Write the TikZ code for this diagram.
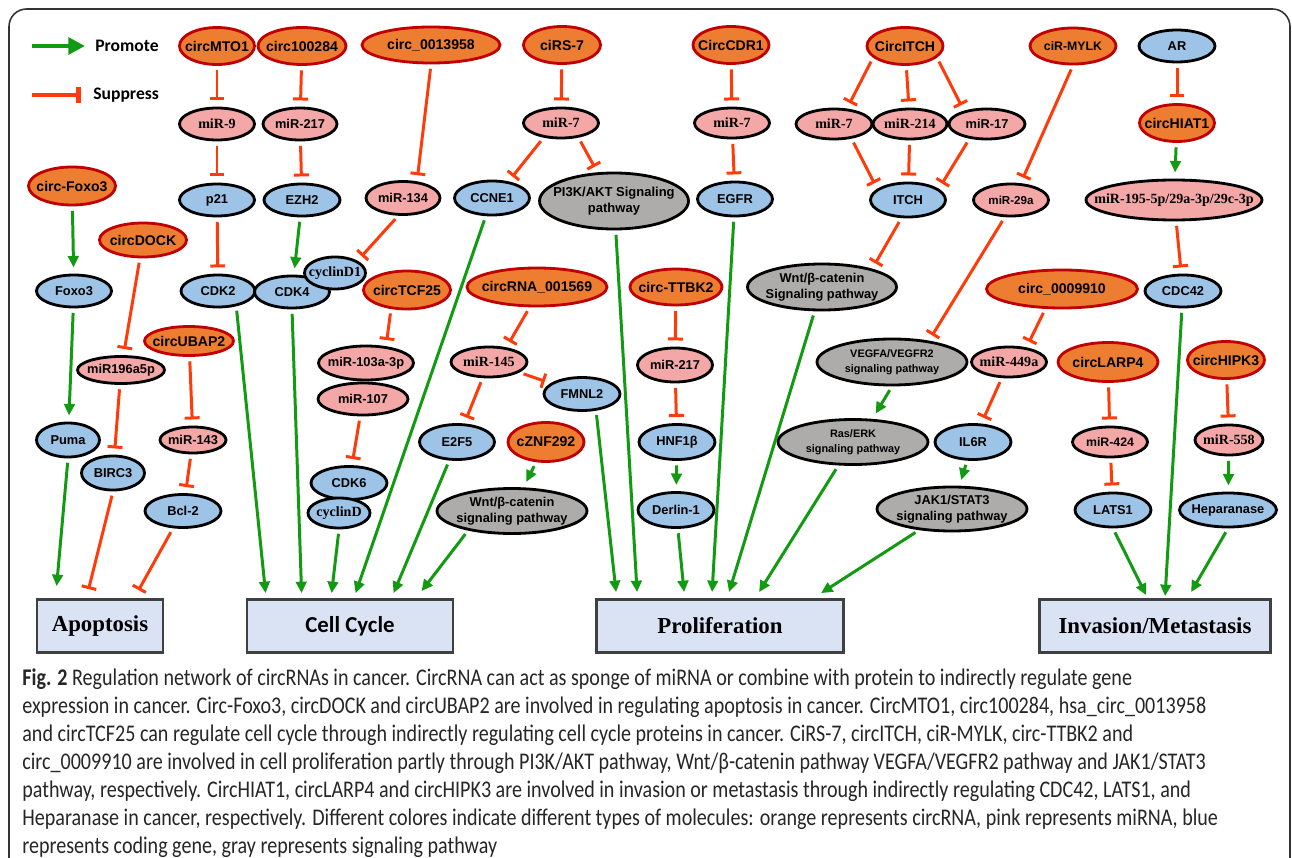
\documentclass[tikz,border=0pt]{standalone}
\usepackage{fontspec}
\setmainfont{Liberation Serif}
\setsansfont{Liberation Sans}
\newfontfamily\calfont{Carlito}
\newfontfamily\capfont[FakeStretch=0.84]{Carlito}
\usetikzlibrary{shapes.geometric,arrows.meta,calc}

\definecolor{corange}{HTML}{ED7D31}
\definecolor{credge}{HTML}{C00000}
\definecolor{cpink}{HTML}{F4A7A7}
\definecolor{cblue}{HTML}{9DC3E6}
\definecolor{cgrey}{HTML}{AEABAB}
\definecolor{cgreen}{HTML}{129A12}
\definecolor{cred}{HTML}{FF3B0A}
\definecolor{cboxfill}{HTML}{DAE3F3}
\definecolor{cboxline}{HTML}{404040}

\tikzset{
  mol/.style={ellipse, draw=black, line width=1.6pt, inner xsep=-60pt, inner ysep=-20pt,
    align=center, font=\sffamily\bfseries\fontsize{7.3}{8.8}\selectfont},
  sz/.style 2 args={minimum width=#1*0.02cm, minimum height=#2*0.02cm},
  fsz/.style={font=\sffamily\bfseries\fontsize{#1}{8.8}\selectfont},
  tnr/.style={font=\rmfamily\bfseries\fontsize{8}{9}\selectfont},
  circrna/.style={mol, fill=corange, draw=credge, fsz=8},
  mirna/.style={mol, fill=cpink},
  gene/.style={mol, fill=cblue},
  sigpath/.style={mol, fill=cgrey},
  outcome/.style={draw=cboxline, fill=cboxfill, line width=1.6pt, inner sep=0pt,
    font=\rmfamily\bfseries\fontsize{13}{15}\selectfont},
  promote/.style={draw=cgreen, line width=1.7pt, -{Triangle[length=6.5pt,width=6pt]},
    shorten <=2.5pt, shorten >=3.5pt},
  suppress/.style={draw=cred, line width=1.7pt, -{Bar[width=8.5pt]},
    shorten <=2.5pt, shorten >=3.5pt},
  tobox/.style={shorten >=0pt},
}

\begin{document}
\begin{tikzpicture}[x=0.02cm, y=-0.02cm]
\fill[white] (0,0) rectangle (1292,858);
\useasboundingbox (0,0) rectangle (1292,858);
\draw[black!80, line width=0.9pt, rounded corners=10pt] (9,9) rectangle (1290,875);

% legend
\coordinate (lgpro) at (32,46);
\coordinate (lgsup) at (32,95);
\node[anchor=west, inner sep=0pt, font=\calfont\bfseries\fontsize{10}{12}\selectfont] (lpromote) at (95,46) {Promote};
\node[anchor=west, inner sep=0pt, font=\calfont\bfseries\fontsize{10}{12}\selectfont] (lsuppress) at (93,95) {Suppress};
\draw[draw=cgreen, line width=2.8pt, -{Triangle[length=9.5pt,width=9.5pt]}, shorten >=5.7pt] (lgpro) -- (lpromote.west);
\draw[draw=cred, line width=2.8pt, -{Bar[width=9pt]}, shorten >=7pt] (lgsup) -- (lsuppress.west);

% circRNAs
\node[circrna, sz={75}{37}] (cMTO1) at (217,46) {circMTO1};
\node[circrna, sz={88}{37}] (c100284) at (302,46) {circ100284};
\node[circrna, sz={138}{36}] (c0013958) at (431,45) {circ\_0013958};
\node[circrna, sz={77}{37}] (ciRS7) at (562,45) {ciRS-7};
\node[circrna, sz={76}{37}] (cCDR1) at (731,45) {CircCDR1};
\node[circrna, sz={76}{37}] (cITCH) at (905,46) {CircITCH};
\node[circrna, sz={86}{36}, fsz=7] (ciRMYLK) at (1073,46) {ciR-MYLK};
\node[circrna, sz={87}{38}] (cFoxo3) at (72,186) {circ-Foxo3};
\node[circrna, sz={87}{34}] (cDOCK) at (143,240) {circDOCK};
\node[circrna, sz={89}{29}] (cUBAP2) at (189,341) {circUBAP2};
\node[circrna, sz={87}{38}] (cTCF25) at (407,290) {circTCF25};
\node[circrna, sz={140}{38}] (c001569) at (537,287) {circRNA\_001569};
\node[circrna, sz={92}{36}] (cTTBK2) at (676,287) {circ-TTBK2};
\node[circrna, sz={76}{39}] (cZNF292) at (546,442) {cZNF292};
\node[circrna, sz={151}{38}] (c0009910) at (1062,289) {circ\_0009910};
\node[circrna, sz={75}{37}] (cHIAT1) at (1177,123) {circHIAT1};
\node[circrna, sz={100}{39}] (cLARP4) at (1108,362) {circLARP4};
\node[circrna, sz={77}{37}] (cHIPK3) at (1226,360) {circHIPK3};

% miRNAs
\node[mirna, tnr, sz={75}{32}] (miR9) at (217,124) {miR-9};
\node[mirna, sz={74}{32}] (miR217a) at (300,124) {miR-217};
\node[mirna, sz={74}{33}] (miR134) at (403,198) {miR-134};
\node[mirna, tnr, sz={75}{30}] (miR7a) at (561,123) {miR-7};
\node[mirna, tnr, sz={75}{30}] (miR7b) at (732,123) {miR-7};
\node[mirna, tnr, sz={76}{30}] (miR7c) at (834,124) {miR-7};
\node[mirna, tnr, sz={74}{30}] (miR214) at (910,124) {miR-214};
\node[mirna, sz={76}{30}] (miR17) at (987,124) {miR-17};
\node[mirna, sz={75}{32}, fsz=6.6] (miR29a) at (1011,200) {miR-29a};
\node[mirna, tnr, sz={176}{40}] (miR195) at (1174,200) {miR-195-5p/29a-3p/29c-3p};
\node[mirna, sz={87}{27}] (miR196) at (121,370) {miR196a5p};
\node[mirna, sz={66}{26}] (miR143) at (193,440) {miR-143};
\node[mirna, sz={95}{34}] (miR103) at (366,363) {miR-103a-3p};
\node[mirna, sz={90}{32}] (miR107) at (363,399) {miR-107};
\node[mirna, tnr, sz={76}{30}] (miR145) at (489,362) {miR-145};
\node[mirna, sz={75}{34}] (miR217b) at (675,365) {miR-217};
\node[mirna, tnr, sz={75}{30}] (miR449a) at (1009,362) {miR-449a};
\node[mirna, sz={75}{30}, fsz=7] (miR424) at (1110,442) {miR-424};
\node[mirna, tnr, sz={68}{30}] (miR558) at (1229,440) {miR-558};

% coding genes
\node[gene, sz={75}{32}] (p21) at (217,200) {p21};
\node[gene, sz={76}{32}] (EZH2) at (302,200) {EZH2};
\node[gene, sz={75}{32}] (Foxo3) at (74,291) {Foxo3};
\node[gene, sz={74}{32}] (CDK2) at (218,291) {CDK2};
\node[gene, sz={75}{32}] (CDK4) at (292,292) {CDK4};
\node[gene, tnr, sz={61}{32}] (cyclinD1) at (335,273) {cyclinD1};
\node[gene, sz={75}{34}] (CCNE1) at (492,198) {CCNE1};
\node[gene, sz={75}{34}] (EGFR) at (735,199) {EGFR};
\node[gene, sz={75}{34}] (ITCH) at (908,200) {ITCH};
\node[gene, sz={76}{32}] (AR) at (1177,46) {AR};
\node[gene, sz={76}{32}] (CDC42) at (1183,291) {CDC42};
\node[gene, sz={63}{34}] (Puma) at (68,440) {Puma};
\node[gene, sz={63}{34}] (BIRC3) at (113,473) {BIRC3};
\node[gene, sz={76}{33}] (Bcl2) at (183,511) {Bcl-2};
\node[gene, sz={76}{33}] (CDK6) at (349,483) {CDK6};
\node[gene, tnr, sz={62}{30}] (cyclinD) at (339,513) {cyclinD};
\node[gene, sz={75}{35}] (E2F5) at (457,442) {E2F5};
\node[gene, sz={76}{33}] (FMNL2) at (582,394) {FMNL2};
\node[gene, sz={76}{35}] (HNF1b) at (677,442) {HNF1β};
\node[gene, sz={76}{35}] (Derlin1) at (676,510) {Derlin-1};
\node[gene, sz={76}{35}] (IL6R) at (973,442) {IL6R};
\node[gene, sz={76}{34}] (LATS1) at (1113,510) {LATS1};
\node[gene, sz={97}{34}] (Heparanase) at (1228,510) {Heparanase};

% signaling pathways
\node[sigpath, sz={149}{56}, fsz=7.4] (PI3K) at (614,201) {PI3K/AKT Signaling\\pathway};
\node[sigpath, sz={149}{46}] (wntA) at (822,287) {Wnt/β-catenin\\Signaling pathway};
\node[sigpath, sz={150}{46}, fsz=6.2] (VEGFA) at (892,362) {VEGFA/VEGFR2\\signaling pathway};
\node[sigpath, sz={150}{45}, fsz=6.2] (RasERK) at (853,442) {Ras/ERK\\signaling pathway};
\node[sigpath, sz={150}{45}] (wntB) at (512,511) {Wnt/β-catenin\\signaling pathway};
\node[sigpath, sz={150}{44}] (JAK) at (952,509) {JAK1/STAT3\\signaling pathway};

% outcomes
\node[outcome, sz={126}{53}] (apo) at (100,626) {Apoptosis};
\node[outcome, sz={206}{53}, font=\calfont\bfseries\fontsize{13}{15}\selectfont] (cc) at (350,626) {Cell Cycle};
\node[outcome, sz={247}{53}] (prolif) at (720,626) {Proliferation};
\node[outcome, sz={231}{53}] (inv) at (1155,626) {Invasion/Metastasis};

% cell cycle branch
\draw[suppress] (cMTO1) -- (miR9);
\draw[suppress] (c100284) -- (miR217a);
\draw[suppress] (miR9) -- (p21);
\draw[suppress] (miR217a) -- (EZH2);
\draw[suppress] (p21) -- (CDK2);
\draw[promote] (EZH2) -- (CDK4);
\draw[suppress] (c0013958.south) -- (miR134.50);
\draw[suppress] (miR134.-105) -- (cyclinD1.north east);
\draw[suppress] (cTCF25.-130) -- (miR103.40);
\draw[suppress] (miR107) -- (CDK6);
\draw[suppress] (ciRS7) -- (miR7a);
\draw[suppress] (miR7a.-140) -- (CCNE1.45);
\draw[suppress] (miR7a.-40) -- (PI3K.120);
\draw[suppress] (c001569.-110) -- (miR145.40);
\draw[suppress] (miR145) -- (FMNL2);
\draw[suppress] (miR145) -- (E2F5);
\draw[promote] (cZNF292) -- (wntB);
\draw[promote, tobox] (CDK2.-40) -- ($(cc.north west)+(20,-5)$);
\draw[promote, tobox] (CDK4.south) -- ($(cc.north west)+(56,-5)$);
\draw[promote, tobox] (cyclinD.south) -- ($(cc.north west)+(86,-5)$);
\draw[promote, tobox] (CCNE1) -- ($(cc.north west)+(110,-5)$);
\draw[promote, tobox] (E2F5) -- ($(cc.north west)+(148,-5)$);
\draw[promote, tobox] (wntB.204) -- ($(cc.north west)+(176,-7)$);

% apoptosis branch
\draw[promote] (cFoxo3) -- (Foxo3);
\draw[promote] (Foxo3) -- (Puma);
\draw[suppress] (cDOCK) -- (miR196);
\draw[suppress] (miR196) -- (BIRC3);
\draw[suppress] (cUBAP2) -- (miR143);
\draw[suppress] (miR143) -- (Bcl2);
\draw[promote, tobox] (Puma.south) -- ($(apo.north west)+(21,-12)$);
\draw[suppress, tobox] (BIRC3.south) -- ($(apo.north west)+(53,-9)$);
\draw[suppress, tobox] (Bcl2.-120) -- ($(apo.north west)+(103,-8)$);

% proliferation branch
\draw[suppress] (cCDR1) -- (miR7b);
\draw[suppress] (miR7b) -- (EGFR);
\draw[suppress] (cITCH.-160) -- (miR7c.50);
\draw[suppress] (cITCH) -- (miR214);
\draw[suppress] (cITCH.-20) -- (miR17.150);
\draw[suppress] (miR7c.-40) -- (ITCH.160);
\draw[suppress] (miR214) -- (ITCH);
\draw[suppress] (miR17.-140) -- (ITCH.20);
\draw[suppress] (ITCH.-110) -- (wntA.20);
\draw[suppress] (ciRMYLK.south) -- (miR29a.60);
\draw[suppress] (miR29a.-110) -- (VEGFA.30);
\draw[promote] (VEGFA.south) -- (RasERK.50);
\draw[suppress] (cTTBK2) -- (miR217b);
\draw[suppress] (miR217b) -- (HNF1b);
\draw[promote] (HNF1b) -- (Derlin1);
\draw[suppress] (c0009910.-130) -- (miR449a.40);
\draw[suppress] (miR449a) -- (IL6R);
\draw[promote] (IL6R) -- (JAK);
\draw[promote, tobox] (FMNL2.-50) -- ($(prolif.north west)+(21,-6)$);
\draw[promote, tobox] (PI3K) -- ($(prolif.north west)+(42,-6)$);
\draw[promote, tobox] (Derlin1) -- ($(prolif.north west)+(89,-6)$);
\draw[promote, tobox] (EGFR) -- ($(prolif.north west)+(117,-6)$);
\draw[promote, tobox] (wntA) -- ($(prolif.north west)+(134,-6)$);
\draw[promote, tobox] (RasERK) -- ($(prolif.north west)+(164,-6)$);
\draw[promote, tobox] (JAK) -- ($(prolif.north west)+(226,-5)$);

% invasion branch
\draw[suppress] (AR) -- (cHIAT1);
\draw[promote] (cHIAT1) -- (miR195);
\draw[suppress] (miR195) -- (CDC42);
\draw[suppress] (cLARP4) -- (miR424);
\draw[suppress] (miR424) -- (LATS1);
\draw[suppress] (cHIPK3) -- (miR558);
\draw[promote] (miR558) -- (Heparanase);
\draw[promote, tobox] (LATS1.south) -- ($(inv.north west)+(108,-3)$);
\draw[promote, tobox] (CDC42) -- ($(inv.north west)+(127,-2)$);
\draw[promote, tobox] (Heparanase.south) -- ($(inv.north west)+(153,-6)$);

% caption
\node[anchor=north west, inner sep=0pt, align=left, text=black!85,
  font=\capfont\fontsize{13.6}{15.94}\selectfont] (caption) at (22,668)
{\textbf{Fig. 2} Regulation network of circRNAs in cancer. CircRNA can act as sponge of miRNA or combine with protein to indirectly regulate gene\\
expression in cancer. Circ-Foxo3, circDOCK and circUBAP2 are involved in regulating apoptosis in cancer. CircMTO1, circ100284, hsa\_circ\_0013958\\
and circTCF25 can regulate cell cycle through indirectly regulating cell cycle proteins in cancer. CiRS-7, circITCH, ciR-MYLK, circ-TTBK2 and\\
circ\_0009910 are involved in cell proliferation partly through PI3K/AKT pathway, Wnt/β-catenin pathway VEGFA/VEGFR2 pathway and JAK1/STAT3\\
pathway, respectively. CircHIAT1, circLARP4 and circHIPK3 are involved in invasion or metastasis through indirectly regulating CDC42, LATS1, and\\
Heparanase in cancer, respectively. Different colores indicate different types of molecules: orange represents circRNA, pink represents miRNA, blue\\
represents coding gene, gray represents signaling pathway};
\end{tikzpicture}
\end{document}
